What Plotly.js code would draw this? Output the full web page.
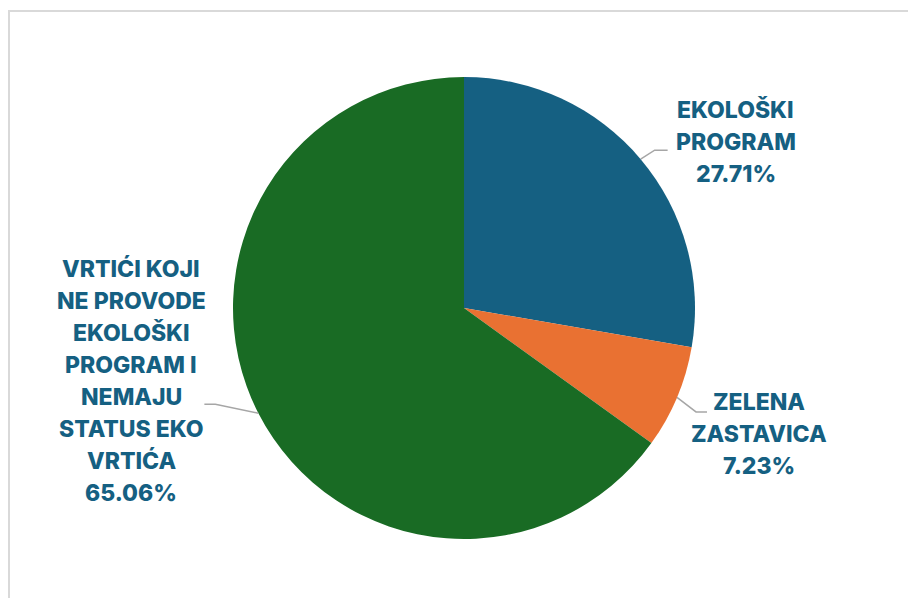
<!DOCTYPE html>
<html>
<head>
<meta charset="utf-8">
<script src="https://cdn.plot.ly/plotly-3.0.1.min.js"></script>
<style>html,body{margin:0;padding:0;background:#fff;}#chart{width:908px;height:598px;}</style>
</head>
<body>
<div id="chart"></div>
<script>
// ---- data ----
const labels = ['EKOLOŠKI PROGRAM', 'ZELENA ZASTAVICA', 'VRTIĆI KOJI NE PROVODE EKOLOŠKI PROGRAM I NEMAJU STATUS EKO VRTIĆA'];
const labelLines = [
  ['EKOLOŠKI', 'PROGRAM'],
  ['ZELENA', 'ZASTAVICA'],
  ['VRTIĆI KOJI', 'NE PROVODE', 'EKOLOŠKI', 'PROGRAM I', 'NEMAJU', 'STATUS EKO', 'VRTIĆA']
];
const values = [27.71, 7.23, 65.06];
const colors = ['#156082', '#E97132', '#196B24'];

// ---- layout / style ----
const W = 908, H = 598;
const cx = 464, cy = 308, R = 231;
const textColor = '#156082';
const fontFamily = 'Inter, "Open Sans", sans-serif';
const fontSize = 23;
const lineStep = 32;
// label centre offsets from slice anchor (px), leader elbow & end offsets (px)
const labelOffset = [[95, -17], [82, 37], [-127, -32]];
const leaderPts = [[[14, -9], [27, -9]], [[19, 14.5], [30, 14.5]], [[-43, -9], [-54, -9]]];

const px = x => x / W, py = y => 1 - y / H;

const total = values.reduce((a, b) => a + b, 0);
let cum = 0;
const annotations = [];
const shapes = [];
values.forEach((v, i) => {
  const mid = (cum + v / 2) / total * 2 * Math.PI; // clockwise from 12 o'clock
  cum += v;
  const ax = cx + R * Math.sin(mid), ay = cy - R * Math.cos(mid);
  const lines = labelLines[i].concat([v.toFixed(2) + '%']);
  const lx = ax + labelOffset[i][0], ly = ay + labelOffset[i][1];
  lines.forEach((t, k) => {
    const y = ly + (k - (lines.length - 1) / 2) * lineStep;
    annotations.push({
      x: px(lx), y: py(y), xref: 'paper', yref: 'paper',
      text: t, showarrow: false,
      xanchor: 'center', yanchor: 'middle',
      font: {family: fontFamily, size: fontSize, color: textColor, weight: 800}
    });
  });
  const e = leaderPts[i];
  shapes.push({
    type: 'path', xref: 'paper', yref: 'paper',
    path: 'M' + px(ax) + ',' + py(ay) + ' L' + px(ax + e[0][0]) + ',' + py(ay + e[0][1]) + ' L' + px(ax + e[1][0]) + ',' + py(ay + e[1][1]),
    line: {color: '#A6A6A6', width: 1.5}
  });
});

// outer chart frame
shapes.push({
  type: 'rect', xref: 'paper', yref: 'paper',
  x0: px(9), x1: 1.05, y0: -0.05, y1: py(11),
  line: {color: '#D9D9D9', width: 2}
});

const trace = {
  type: 'pie',
  labels: labels,
  values: values,
  sort: false,
  direction: 'clockwise',
  rotation: 0,
  textinfo: 'none',
  hoverinfo: 'label+percent',
  marker: {colors: colors, line: {color: '#ffffff', width: 0}},
  domain: {x: [px(cx - R), px(cx + R)], y: [py(cy + R), py(cy - R)]},
  showlegend: false
};

const layout = {
  width: W, height: H,
  margin: {l: 0, r: 0, t: 0, b: 0},
  paper_bgcolor: '#ffffff',
  plot_bgcolor: '#ffffff',
  showlegend: false,
  annotations: annotations,
  shapes: shapes
};

Plotly.newPlot('chart', [trace], layout, {displayModeBar: false, staticPlot: true});
</script>
</body>
</html>
